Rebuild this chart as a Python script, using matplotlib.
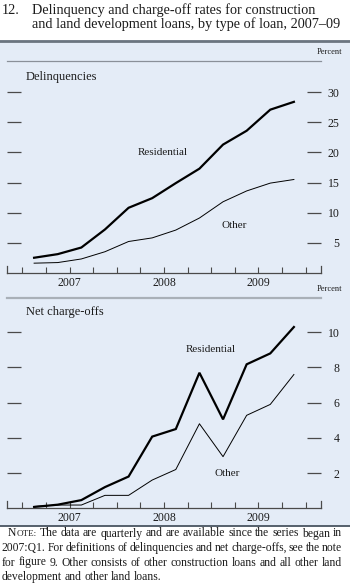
import matplotlib
matplotlib.use("Agg")
import matplotlib.pyplot as plt
from matplotlib.patches import Rectangle
from matplotlib.lines import Line2D

W, H = 350, 583

# quarterly data, 2007:Q1 - 2009:Q4
quarters = [2007 + (i + 0.5) / 4 for i in range(12)]
delinq_resid = [2.5, 3.1, 4.2, 7.2, 10.8, 12.4, 14.9, 17.3, 21.3, 23.6, 27.1, 28.4]
delinq_other = [1.6, 1.7, 2.3, 3.5, 5.2, 5.8, 7.1, 9.1, 11.8, 13.6, 14.9, 15.5]
chgoff_resid = [0.07, 0.2, 0.46, 1.2, 1.8, 4.07, 4.5, 7.7, 5.05, 8.18, 8.8, 10.3]
chgoff_other = [0.1, 0.18, 0.18, 0.73, 0.73, 1.6, 2.2, 4.8, 2.93, 5.28, 5.9, 7.6]
year_labels = ["2007", "2008", "2009"]
delinq_ticks = [5, 10, 15, 20, 25, 30]
chgoff_ticks = [2, 4, 6, 8, 10]

BG = "#e4ecf7"
TXT = "#1c1c1c"
TICK = "#4a4a4a"
plt.rcParams["font.family"] = ["Liberation Serif", "DejaVu Serif"]


def fx(x):
    return x / W


def fy(y):
    return 1 - y / H


fig = plt.figure(figsize=(W / 100, H / 100), dpi=100, facecolor="white")

# shaded panel
fig.patches.append(Rectangle((0, fy(526)), 1, fy(40) - fy(526), transform=fig.transFigure,
                             facecolor=BG, edgecolor="none", zorder=-5))
fig.lines.append(Line2D([0, 1], [fy(40.5), fy(40.5)], transform=fig.transFigure,
                        color="#6b7580", lw=2.0))
fig.lines.append(Line2D([0, 1], [fy(525.5), fy(525.5)], transform=fig.transFigure,
                        color="#55606c", lw=1.4))

# title
fig.text(fx(2), fy(10), "12.", fontsize=10.3, color=TXT, va="center")
fig.text(fx(32), fy(10), "Delinquency and charge-off rates for construction",
         fontsize=10.3, color=TXT, va="center")
fig.text(fx(32), fy(24.5), "and land development loans, by type of loan, 2007\u201309",
         fontsize=10.3, color=TXT, va="center")


def panel(bottom_px, top_px, ymax, resid, other, yticks, title, title_y,
          lab_r, lab_o, spine_h):
    ax = fig.add_axes([fx(7), fy(bottom_px), fx(321) - fx(7), fy(top_px) - fy(bottom_px)])
    ax.patch.set_visible(False)
    ax.plot(quarters, resid, color="black", lw=1.6, solid_joinstyle="miter")
    ax.plot(quarters, other, color="black", lw=0.7)
    ax.set_xlim(2006.838, 2010.162)
    ax.set_ylim(0, ymax)
    ax.spines["top"].set_visible(False)
    ax.spines["bottom"].set_color(TICK)
    ax.spines["bottom"].set_linewidth(0.9)
    for s in ["left", "right"]:
        ax.spines[s].set_color(TICK)
        ax.spines[s].set_linewidth(0.9)
        ax.spines[s].set_bounds(0, spine_h)
    ax.set_yticks(yticks)
    ax.tick_params(axis="y", left=True, right=True, labelleft=False, labelright=True,
                   direction="in", length=10, width=0.9, color=TICK, pad=13.5,
                   labelsize=8.5, labelcolor=TXT)
    for lab in ax.get_yticklabels():
        lab.set_horizontalalignment("right")
    ax.set_xticks([2007.5, 2008.5, 2009.5], year_labels)
    ax.set_xticks([2007 + q / 4 for q in range(13)], minor=True)
    ax.xaxis.remove_overlapping_locs = False
    ax.tick_params(axis="x", which="major", length=0, pad=3, labelsize=8.5, labelcolor=TXT)
    ax.tick_params(axis="x", which="minor", direction="in", length=4, width=0.8, color=TICK)
    ax.text(lab_r[0], lab_r[1], "Residential", fontsize=8, color=TXT, ha="center", va="center")
    ax.text(lab_o[0], lab_o[1], "Other", fontsize=8, color=TXT, ha="center", va="center")
    fig.text(fx(26), fy(title_y), title, fontsize=9, color=TXT, va="center")
    return ax


panel(272.8, 86.2, 31, delinq_resid, delinq_other, delinq_ticks, "Delinquencies", 77,
      (2008.49, 20.0), (2009.24, 7.9), 1.2)
panel(508.2, 323.5, 10.5, chgoff_resid, chgoff_other, chgoff_ticks, "Net charge-offs", 312,
      (2009.0, 9.05), (2009.17, 2.0), 0.42)

# percent labels and separator rules
fig.text(fx(342), fy(52.5), "Percent", fontsize=6, color=TXT, ha="right", va="center")
fig.lines.append(Line2D([fx(7), fx(321)], [fy(61), fy(61)], transform=fig.transFigure,
                        color="#8a9099", lw=0.9))
fig.text(fx(342), fy(289), "Percent", fontsize=6, color=TXT, ha="right", va="center")
fig.lines.append(Line2D([fx(7), fx(321)], [fy(297.5), fy(297.5)], transform=fig.transFigure,
                        color="#a9b0b8", lw=1.6))

# note, justified
note_lines = [
    "The data are quarterly and are available since the series began in",
    "2007:Q1. For definitions of delinquencies and net charge-offs, see the note",
    "for figure 9. Other consists of other construction loans and all other land",
    "development and other land loans.",
]
fs = 8.4
renderer = fig.canvas.get_renderer()


def width_px(s, size):
    t = fig.text(0, 0, s, fontsize=size)
    w = t.get_window_extent(renderer).width
    t.remove()
    return w


ys = [533.5, 548, 562.5, 577]
x_right = 342
space = width_px("a b", fs) - width_px("ab", fs)
for i, line in enumerate(note_lines):
    y = ys[i]
    x0 = 1.5
    words = line.split(" ")
    if i == 0:
        x0 = 8
        fig.text(fx(x0), fy(y), "N", fontsize=fs, color=TXT, va="center")
        x0 += width_px("N", fs)
        fig.text(fx(x0), fy(y), "OTE:", fontsize=fs * 0.78, color=TXT, va="center")
        x0 += width_px("OTE:", fs * 0.78) + space
    widths = [width_px(w, fs) for w in words]
    if i < len(note_lines) - 1:
        gap = (x_right - x0 - sum(widths)) / (len(words) - 1)
    else:
        gap = space
    x = x0
    for w, wd in zip(words, widths):
        fig.text(fx(x), fy(y), w, fontsize=fs, color=TXT, va="center")
        x += wd + gap

fig.savefig("out.png", dpi=100, facecolor="white")
